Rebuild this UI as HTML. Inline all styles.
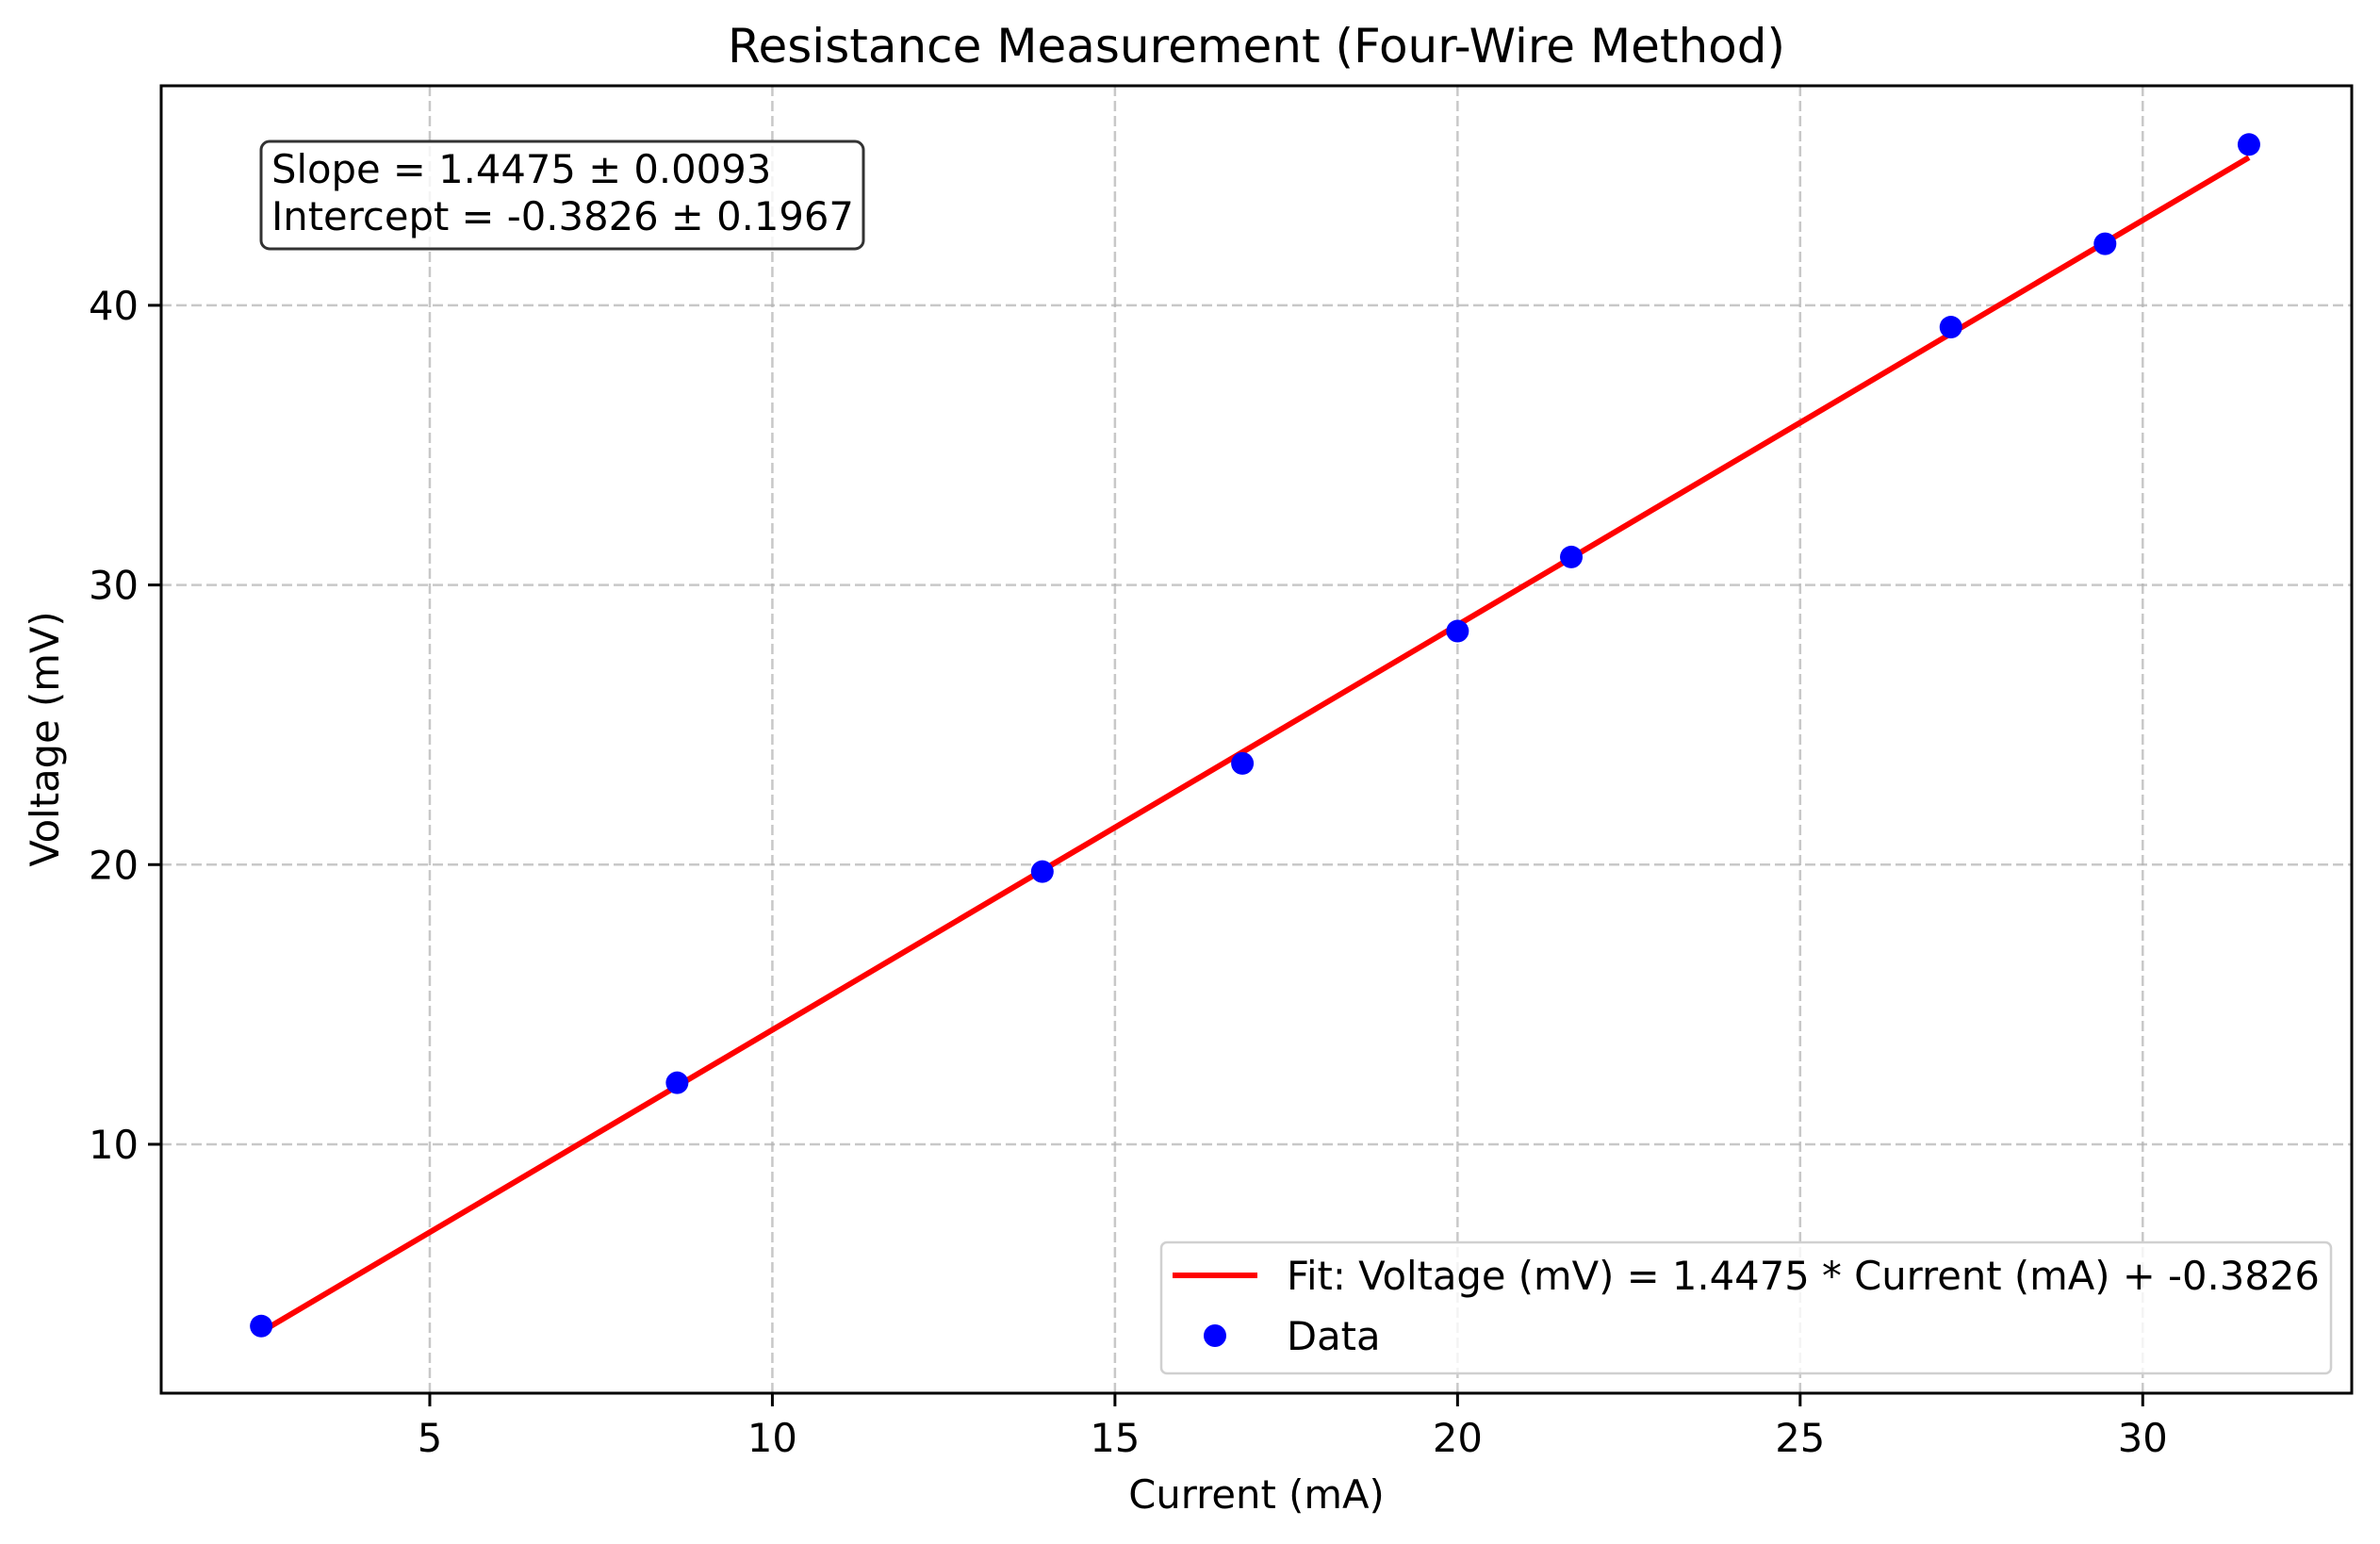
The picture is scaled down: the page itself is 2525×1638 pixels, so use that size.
<!DOCTYPE html>
<html><head><meta charset="utf-8"><style>
html,body{margin:0;padding:0;background:#fff;}
svg{display:block;font-family:"DejaVu Sans","Liberation Sans",sans-serif;}
</style></head><body>
<svg id="chart" width="2525" height="1638" viewBox="0 0 2525 1638" xmlns="http://www.w3.org/2000/svg">
<rect width="2525" height="1638" fill="#fff"/>
<g id="grid"></g>
<g id="marks"></g>
<rect x="171" y="91" width="2324" height="1387" fill="none" stroke="#000" stroke-width="3"/>
<g id="ticks"></g>
<text x="1333" y="66" font-size="50" text-anchor="middle">Resistance Measurement (Four-Wire Method)</text>
<text x="1333" y="1600" font-size="41.7" text-anchor="middle">Current (mA)</text>
<text transform="translate(62,784) rotate(-90)" font-size="41.7" text-anchor="middle">Voltage (mV)</text>
<g>
<rect x="277" y="150" width="639" height="114" rx="9" fill="#fff" fill-opacity="0.8" stroke="#333" stroke-width="3"/>
<text x="288" y="194" font-size="41.7">Slope = 1.4475 ± 0.0093</text>
<text x="288" y="244" font-size="41.7">Intercept = -0.3826 ± 0.1967</text>
</g>
<g>
<rect x="1232" y="1318" width="1241" height="139" rx="6" fill="#fff" fill-opacity="0.8" stroke="#d0d0d0" stroke-width="2.5"/>
<line x1="1244" y1="1353" x2="1334" y2="1353" stroke="#ff0000" stroke-width="6"/>
<text x="1365" y="1368" font-size="41.7">Fit: Voltage (mV) = 1.4475 * Current (mA) + -0.3826</text>
<circle cx="1289" cy="1417" r="12" fill="#0000ff"/>
<text x="1365" y="1432" font-size="41.7">Data</text>
</g>
</svg>
<script>
const currents = [2.54, 8.61, 13.94, 16.86, 20.0, 21.66, 27.2, 29.45, 31.55];
const voltages = [3.5, 12.2, 19.75, 23.62, 28.35, 31.0, 39.22, 42.2, 45.75];
const slope = 1.4475;
const intercept = -0.3826;
const xTicks = [5, 10, 15, 20, 25, 30];
const yTicks = [10, 20, 30, 40];

const NS = "http://www.w3.org/2000/svg";
const L = 171, R = 2495, T = 91, B = 1478;
const xMin = 1.08, xMax = 33.05, yMin = 1.1, yMax = 47.85;
function sx(v){ return L + (v - xMin) / (xMax - xMin) * (R - L); }
function sy(v){ return B - (v - yMin) / (yMax - yMin) * (B - T); }
function mk(tag, attrs, parent){ const e = document.createElementNS(NS, tag); for (const k in attrs) e.setAttribute(k, attrs[k]); parent.appendChild(e); return e; }

const grid = document.getElementById('grid');
const ticks = document.getElementById('ticks');
const marks = document.getElementById('marks');

xTicks.forEach(t => {
  const x = sx(t);
  const g = mk('line', {x1:x, y1:T, x2:x, y2:B, stroke:'#b0b0b0', 'stroke-opacity':0.7, 'stroke-width':2.5, 'stroke-dasharray':'11,5'}, grid);
  
  
  const tk = mk('line', {x1:x, y1:B, x2:x, y2:B+14, stroke:'#000', 'stroke-width':3}, ticks);
  
  
  const tx = mk('text', {x:x, y:B+62, 'font-size':41.7, 'text-anchor':'middle'}, ticks);
  tx.textContent = t;
  
  
});
yTicks.forEach(t => {
  const y = sy(t);
  const g = mk('line', {x1:L, y1:y, x2:R, y2:y, stroke:'#b0b0b0', 'stroke-opacity':0.7, 'stroke-width':2.5, 'stroke-dasharray':'11,5'}, grid);
  
  
  const tk = mk('line', {x1:L-14, y1:y, x2:L, y2:y, stroke:'#000', 'stroke-width':3}, ticks);
  
  
  const tx = mk('text', {x:L-24, y:y+15, 'font-size':41.7, 'text-anchor':'end'}, ticks);
  tx.textContent = t;
  
  
});

const x0 = Math.min(...currents), x1 = Math.max(...currents);
const fit = mk('line', {x1:sx(x0), y1:sy(slope*x0+intercept), x2:sx(x1), y2:sy(slope*x1+intercept), stroke:'#ff0000', 'stroke-width':6}, marks);



currents.forEach((c, i) => {
  const p = mk('circle', {cx:sx(c), cy:sy(voltages[i]), r:12, fill:'#0000ff'}, marks);
  
  
});
</script>
</body></html>
